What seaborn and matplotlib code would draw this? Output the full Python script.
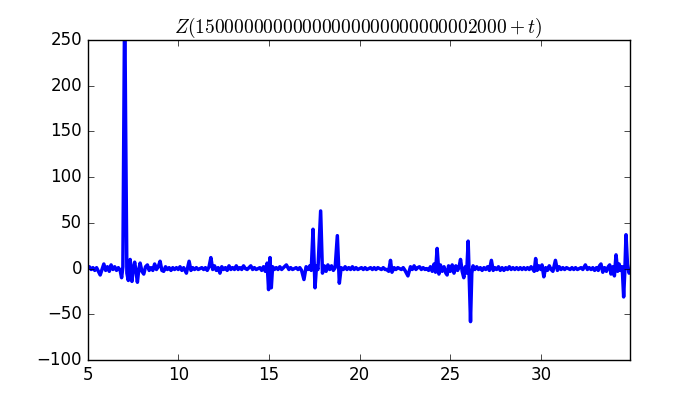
import matplotlib
matplotlib.use("Agg")
import matplotlib.pyplot as plt
import seaborn as sns
import pandas as pd

# values
t_values = [
    5.0, 5.1, 5.2, 5.3, 5.4, 5.5, 5.6, 5.7, 5.8, 5.9, 6.0, 6.1, 6.2, 6.3, 6.4, 6.5, 6.6, 6.7, 6.8, 6.88,
    6.95, 7.0, 7.05, 7.1, 7.17, 7.25, 7.3, 7.35, 7.4, 7.45, 7.52, 7.6, 7.68, 7.75, 7.82, 7.9, 8.0, 8.1, 8.2, 8.3,
    8.4, 8.5, 8.6, 8.7, 8.8, 8.9, 9.0, 9.1, 9.2, 9.3, 9.4, 9.5, 9.6, 9.7, 9.8, 9.9, 10.0, 10.1, 10.2, 10.3,
    10.45, 10.6, 10.7, 10.8, 10.9, 11.0, 11.1, 11.2, 11.3, 11.4, 11.5, 11.6, 11.7, 11.8, 11.9, 12.0, 12.1, 12.2, 12.3, 12.4,
    12.5, 12.6, 12.7, 12.8, 12.9, 13.0, 13.1, 13.2, 13.3, 13.4, 13.5, 13.6, 13.7, 13.8, 13.9, 14.0, 14.1, 14.2, 14.3, 14.4,
    14.5, 14.6, 14.7, 14.8, 14.9, 14.98, 15.06, 15.13, 15.2, 15.3, 15.4, 15.5, 15.6, 15.7, 15.8, 15.96, 16.1, 16.2, 16.3, 16.4,
    16.5, 16.6, 16.7, 16.8, 16.93, 17.05, 17.15, 17.25, 17.33, 17.43, 17.54, 17.62, 17.7, 17.85, 17.95, 18.05, 18.15, 18.25, 18.35, 18.45,
    18.55, 18.65, 18.77, 18.88, 18.98, 19.1, 19.2, 19.3, 19.4, 19.5, 19.6, 19.7, 19.8, 19.9, 20.0, 20.1, 20.2, 20.3, 20.4, 20.5,
    20.6, 20.7, 20.8, 20.9, 21.0, 21.1, 21.2, 21.3, 21.4, 21.5, 21.6, 21.7, 21.78, 21.9, 22.0, 22.1, 22.2, 22.3, 22.4, 22.5,
    22.66, 22.8, 22.9, 23.0, 23.1, 23.2, 23.3, 23.4, 23.5, 23.6, 23.7, 23.8, 23.9, 24.0, 24.1, 24.18, 24.27, 24.37, 24.45, 24.55,
    24.65, 24.75, 24.82, 24.9, 25.0, 25.1, 25.2, 25.3, 25.4, 25.48, 25.56, 25.65, 25.74, 25.82, 25.9, 25.98, 26.04, 26.11, 26.18, 26.25,
    26.35, 26.45, 26.55, 26.65, 26.75, 26.85, 26.95, 27.05, 27.15, 27.26, 27.36, 27.45, 27.55, 27.65, 27.75, 27.85, 27.95, 28.05, 28.15, 28.25,
    28.35, 28.45, 28.55, 28.65, 28.75, 28.85, 28.95, 29.05, 29.15, 29.25, 29.35, 29.45, 29.55, 29.62, 29.7, 29.78, 29.88, 29.98, 30.05, 30.15,
    30.25, 30.35, 30.45, 30.55, 30.65, 30.79, 30.9, 31.0, 31.1, 31.2, 31.3, 31.4, 31.5, 31.6, 31.7, 31.8, 31.9, 32.0, 32.1, 32.2,
    32.3, 32.44, 32.55, 32.65, 32.75, 32.85, 32.95, 33.05, 33.15, 33.22, 33.3, 33.4, 33.5, 33.6, 33.7, 33.78, 33.85, 33.95, 34.04, 34.13,
    34.22, 34.3, 34.38, 34.47, 34.55, 34.62, 34.68, 34.76, 34.85, 34.9,
]
z_values = [
    0, 2, -1, 1, -2, 1, -3, -7, -1, 5, -2, 2, -3, 4, -1, 2, -2, 1, -2, -10,
    2, 150, 300, 160, -5, -13, 2, 10, -3, -14, 0, 7, -4, -15, -2, 6, -3, -6, 2, 4,
    -2, 1, -2, 5, -1, 2, 8, -2, -3, 2, -1, 1, -2, 1, -1, 1, -1, 2, -2, 1,
    -5, 8, -2, 1, -1, 1, -1, 0, 1, -1, 1, -2, 2, 12, -1, 3, -2, 1, -5, 2,
    -1, 1, -2, 3, -1, 1, -1, 3, -1, 1, -1, 3, 0, -1, 1, 3, -1, 1, -1, 0,
    1, -2, 2, -3, 6, -23, 12, -21, 2, -1, 1, -1, 2, -1, 1, 4, -1, 1, -1, 0,
    1, -1, 1, -2, -12, 2, -1, 3, -2, 43, -21, 3, -1, 63, -5, 3, -3, 4, -1, 3,
    -2, 1, 36, -16, 1, -1, 2, -1, 1, -1, 2, -1, 1, -1, 0, 1, -1, 1, -1, 0,
    1, -1, 1, -1, 1, 0, -1, 1, -1, -1, -3, 9, -4, 1, -1, 1, 0, -1, 1, -2,
    -8, 2, -1, 3, -1, 1, 2, -1, 1, -1, 0, -2, 2, -3, 5, -4, 22, -6, 4, -3,
    2, -5, -7, 3, -3, 4, -5, 3, -2, 2, 10, -3, -10, 2, -5, 30, -10, -58, -5, 3,
    -1, 2, -1, 1, -2, 1, -1, 2, -2, 9, -2, 1, -1, 2, -2, 1, -2, 1, -1, 2,
    -1, 1, -1, 1, -1, 1, -1, 1, -1, 1, -1, 2, -1, -3, 11, -2, 3, -1, 4, -9,
    1, -2, 3, -1, -3, 9, -2, 2, -1, 1, -1, 1, 0, -1, 1, -1, 1, -1, 0, 1,
    -1, 4, -1, 1, -1, 1, -2, 1, -2, 3, 5, -4, 1, -3, 2, 4, -6, 2, -8, 15,
    -3, 5, -2, 2, -31, 0, 37, 5, -5, -3,
]

data = pd.DataFrame({"t": t_values, "Z": z_values})

plt.style.use("classic")
fig, ax = plt.subplots(figsize=(7, 4), dpi=100)
fig.patch.set_facecolor("white")

sns.lineplot(data=data, x="t", y="Z", color="blue", linewidth=2.5, ax=ax)

ax.set_xlim(5, 34.9)
ax.set_ylim(-100, 250)
ax.set_xlabel("")
ax.set_ylabel("")
ax.set_title(r"$Z(15" + "0" * 26 + r"2000+t)$", fontsize=14)

fig.savefig("out.png", dpi=100, facecolor="white")
